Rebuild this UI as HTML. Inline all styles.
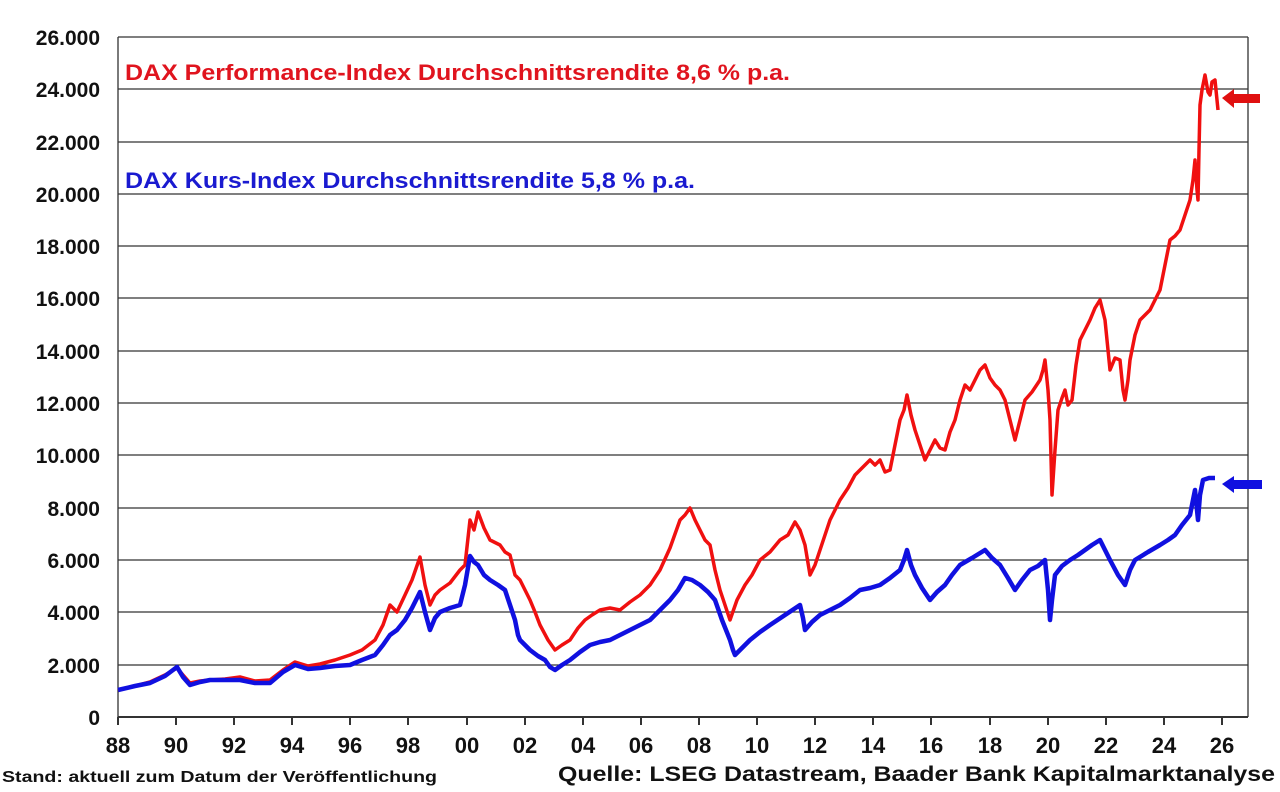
<!DOCTYPE html>
<html><head><meta charset="utf-8"><style>
body{margin:0;background:#fff;}
svg{display:block;font-family:"Liberation Sans",Arial,sans-serif;font-weight:bold;}
</style></head><body>
<svg width="1280" height="792" viewBox="0 0 1280 792">
<g stroke="#333" stroke-width="1.3">
<line x1="118" y1="37" x2="1248" y2="37"/>
<line x1="118" y1="89" x2="1248" y2="89"/>
<line x1="118" y1="142" x2="1248" y2="142"/>
<line x1="118" y1="194" x2="1248" y2="194"/>
<line x1="118" y1="246" x2="1248" y2="246"/>
<line x1="118" y1="298" x2="1248" y2="298"/>
<line x1="118" y1="351" x2="1248" y2="351"/>
<line x1="118" y1="403" x2="1248" y2="403"/>
<line x1="118" y1="455" x2="1248" y2="455"/>
<line x1="118" y1="508" x2="1248" y2="508"/>
<line x1="118" y1="560" x2="1248" y2="560"/>
<line x1="118" y1="612" x2="1248" y2="612"/>
<line x1="118" y1="665" x2="1248" y2="665"/>
<line x1="1248" y1="37" x2="1248" y2="717"/>
<line x1="118" y1="717" x2="1248" y2="717" stroke-width="2"/>
<line x1="118" y1="37" x2="118" y2="717"/>
</g>
<g stroke="#333" stroke-width="2">
<line x1="118" y1="717" x2="118" y2="725"/><line x1="176" y1="717" x2="176" y2="725"/><line x1="234" y1="717" x2="234" y2="725"/><line x1="292" y1="717" x2="292" y2="725"/><line x1="350" y1="717" x2="350" y2="725"/><line x1="408" y1="717" x2="408" y2="725"/><line x1="467" y1="717" x2="467" y2="725"/><line x1="525" y1="717" x2="525" y2="725"/><line x1="583" y1="717" x2="583" y2="725"/><line x1="641" y1="717" x2="641" y2="725"/><line x1="699" y1="717" x2="699" y2="725"/><line x1="757" y1="717" x2="757" y2="725"/><line x1="815" y1="717" x2="815" y2="725"/><line x1="873" y1="717" x2="873" y2="725"/><line x1="931" y1="717" x2="931" y2="725"/><line x1="990" y1="717" x2="990" y2="725"/><line x1="1048" y1="717" x2="1048" y2="725"/><line x1="1106" y1="717" x2="1106" y2="725"/><line x1="1164" y1="717" x2="1164" y2="725"/><line x1="1222" y1="717" x2="1222" y2="725"/>
</g>
<g font-size="21" text-anchor="end" fill="#111">
<text x="100" y="45">26.000</text><text x="100" y="97">24.000</text><text x="100" y="150">22.000</text><text x="100" y="202">20.000</text><text x="100" y="254">18.000</text><text x="100" y="306">16.000</text><text x="100" y="359">14.000</text><text x="100" y="411">12.000</text><text x="100" y="463">10.000</text><text x="100" y="516">8.000</text><text x="100" y="568">6.000</text><text x="100" y="620">4.000</text><text x="100" y="673">2.000</text><text x="100" y="725">0</text>
</g>
<g font-size="22" text-anchor="middle" fill="#111">
<text x="118" y="753">88</text><text x="176" y="753">90</text><text x="234" y="753">92</text><text x="292" y="753">94</text><text x="350" y="753">96</text><text x="408" y="753">98</text><text x="467" y="753">00</text><text x="525" y="753">02</text><text x="583" y="753">04</text><text x="641" y="753">06</text><text x="699" y="753">08</text><text x="757" y="753">10</text><text x="815" y="753">12</text><text x="873" y="753">14</text><text x="931" y="753">16</text><text x="990" y="753">18</text><text x="1048" y="753">20</text><text x="1106" y="753">22</text><text x="1164" y="753">24</text><text x="1222" y="753">26</text>
</g>
<text x="125" y="80" font-size="22" fill="#e0141e" textLength="665" lengthAdjust="spacingAndGlyphs">DAX Performance-Index Durchschnittsrendite 8,6 % p.a.</text>
<text x="125" y="188" font-size="22" fill="#1a1ad0" textLength="570" lengthAdjust="spacingAndGlyphs">DAX Kurs-Index Durchschnittsrendite 5,8 % p.a.</text>
<polyline fill="none" stroke="#f01010" stroke-width="3.5" stroke-linejoin="round" points="118,690 135,686 150,682 165,675 177,668 183,675 190,683 200,681 210,680 225,679 240,677 255,681 270,680 283,670 295,662 308,666 320,664 335,660 350,655 362,650 375,640 383,625 390,605 397,612 405,595 412,580 420,557 425,585 430,605 435,595 440,590 450,583 460,570 465,565 470,520 474,530 478,512 484,528 490,540 500,545 505,552 510,555 515,575 520,580 525,590 530,600 535,612 540,625 548,640 555,650 562,645 570,640 578,628 585,620 592,615 600,610 610,608 620,610 630,602 640,595 650,585 660,570 670,548 680,520 685,515 690,508 695,520 700,530 705,540 710,545 715,570 720,590 725,605 730,620 737,600 745,585 752,575 760,560 770,552 780,540 788,535 795,522 800,530 805,545 810,575 815,565 820,550 825,535 830,520 835,510 840,500 848,488 855,475 862,468 870,460 875,465 880,460 885,472 890,470 895,445 900,420 904,410 907,395 911,415 915,430 920,445 925,460 930,450 935,440 940,448 945,450 950,432 955,420 960,400 965,385 970,390 975,380 980,370 985,365 990,378 995,385 1000,390 1005,400 1010,420 1015,440 1020,420 1025,400 1032,392 1040,380 1043,370 1045,360 1048,390 1050,420 1052,495 1055,450 1058,410 1062,398 1065,390 1068,405 1072,400 1076,365 1080,340 1085,330 1090,320 1095,308 1100,300 1103,312 1105,320 1108,350 1110,370 1115,358 1120,360 1123,390 1125,400 1128,380 1130,360 1135,335 1140,320 1145,315 1150,310 1155,300 1160,290 1165,265 1170,240 1175,236 1180,230 1185,215 1190,200 1193,180 1195,160 1197,190 1198,200 1199,150 1200,105 1202,90 1205,75 1208,92 1210,95 1212,82 1215,80 1217,100 1218,110"/>
<polyline fill="none" stroke="#1010e0" stroke-width="4.5" stroke-linejoin="round" points="118,690 135,686 150,683 165,676 177,667 183,677 190,685 200,682 210,680 225,680 240,680 255,683 270,683 283,672 295,665 308,669 320,668 335,666 350,665 362,660 375,655 383,645 390,635 397,630 405,620 412,608 420,592 425,612 430,630 435,618 440,612 450,608 460,605 465,585 470,556 474,562 478,565 484,575 490,580 498,585 505,590 510,605 515,620 518,635 520,640 525,645 530,650 538,656 545,660 550,667 555,670 562,665 570,660 580,652 590,645 600,642 610,640 620,635 630,630 640,625 650,620 660,610 670,600 678,590 685,578 692,580 700,585 708,592 715,600 722,620 730,640 733,650 735,655 742,648 750,640 760,632 770,625 785,615 800,605 803,618 805,630 812,622 820,615 830,610 840,605 850,598 860,590 870,588 880,585 890,578 900,570 904,560 907,550 911,565 915,575 922,588 930,600 937,592 945,585 952,575 960,565 972,558 985,550 992,558 1000,565 1008,578 1015,590 1022,580 1030,570 1038,566 1045,560 1048,590 1050,620 1052,600 1055,575 1062,566 1070,560 1078,555 1085,550 1092,545 1100,540 1105,550 1110,560 1118,575 1125,585 1130,570 1135,560 1148,552 1160,545 1168,540 1175,535 1182,525 1190,515 1193,500 1195,490 1197,510 1198,520 1200,495 1203,480 1209,478 1215,478"/>
<polygon points="1222,98 1234,89 1234,94 1260,94 1260,103 1234,103 1234,108" fill="#e01010"/>
<polygon points="1222,484 1234,476 1234,480 1262,480 1262,489 1234,489 1234,493" fill="#1010e0"/>
<text x="2" y="782" font-size="16" fill="#111" textLength="435" lengthAdjust="spacingAndGlyphs">Stand: aktuell zum Datum der Veröffentlichung</text>
<text x="558" y="781" font-size="21" fill="#111" textLength="717" lengthAdjust="spacingAndGlyphs">Quelle: LSEG Datastream, Baader Bank Kapitalmarktanalyse</text>
</svg>
</body></html>
